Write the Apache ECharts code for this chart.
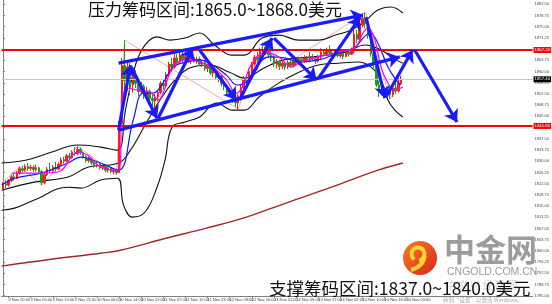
<!DOCTYPE html>
<html><head><meta charset="utf-8">
<script src="https://cdn.jsdelivr.net/npm/echarts@6/dist/echarts.min.js"></script>
<style>html,body{margin:0;padding:0;background:#fff}#c{width:552px;height:304px}</style>
</head><body><div id="c"></div>
<script>
// ---------- DATA ----------
const timeLabels = ['8 Nov 20:00','9 Nov 05:00','9 Nov 13:00','9 Nov 21:00','10 Nov 06:00','10 Nov 14:00','10 Nov 22:00','11 Nov 07:00','11 Nov 15:00','11 Nov 23:00','12 Nov 08:00','12 Nov 16:00','13 Nov 01:00','13 Nov 09:00','13 Nov 17:00','14 Nov 02:00','14 Nov 10:00','14 Nov 18:00','15 Nov 03:00'];
const priceTicks = [1785.00,1788.75,1792.50,1796.25,1800.00,1803.75,1807.50,1811.25,1815.00,1818.75,1822.50,1826.25,1830.00,1833.75,1837.50,1841.25,1845.00,1848.75,1852.50,1856.25,1860.00,1863.75,1867.50,1871.25,1875.00,1878.75,1882.50];
// [open, close, low, high]
const candles = [
[1821.0,1822.5,1820.5,1823.0],[1822.5,1822.0,1821.0,1823.5],[1822.0,1823.5,1821.5,1824.0],[1823.5,1824.8,1823.0,1825.5],
[1824.8,1824.2,1823.5,1825.8],[1824.2,1826.0,1824.0,1826.8],[1826.0,1827.5,1825.5,1828.2],[1827.5,1827.0,1826.2,1828.5],
[1827.0,1828.3,1826.5,1829.0],[1828.3,1827.6,1826.8,1829.4],[1827.6,1828.0,1826.9,1828.8],[1828.0,1827.2,1826.4,1828.6],
[1827.2,1827.8,1826.6,1828.9],[1827.8,1826.5,1825.8,1828.2],[1826.5,1822.8,1822.0,1827.0],[1822.8,1825.5,1822.3,1826.2],
[1825.5,1827.3,1825.0,1828.0],[1827.3,1826.8,1826.0,1829.5],[1826.8,1828.0,1826.3,1828.7],[1828.0,1827.4,1826.5,1829.8],
[1827.4,1829.0,1827.0,1829.6],[1829.0,1830.5,1828.5,1831.2],[1830.5,1830.0,1829.2,1831.5],[1830.0,1831.8,1829.6,1832.4],
[1831.8,1831.2,1830.5,1832.8],[1831.2,1833.0,1830.8,1833.6],[1833.0,1832.5,1831.8,1834.8],[1832.5,1834.0,1832.0,1835.0],
[1834.0,1832.8,1832.2,1834.6],[1832.8,1831.5,1830.8,1833.3],[1831.5,1830.2,1829.6,1832.0],[1830.2,1830.8,1829.5,1831.6],
[1830.8,1829.4,1828.8,1831.2],[1829.4,1828.5,1827.8,1830.0],[1828.5,1829.0,1827.9,1829.8],[1829.0,1827.8,1827.2,1829.4],
[1827.8,1828.2,1827.0,1828.9],[1828.2,1827.0,1826.4,1828.8],[1827.0,1827.6,1826.2,1828.1],[1827.6,1826.5,1825.9,1828.0],
[1826.5,1827.0,1825.6,1827.6],[1827.0,1826.2,1825.5,1827.5],[1826.2,1842.5,1826.0,1843.5],[1842.5,1862.0,1841.5,1864.5],
[1862.0,1857.0,1854.0,1870.5],[1857.0,1861.5,1853.5,1863.5],[1861.5,1855.5,1852.0,1862.8],[1855.5,1858.5,1853.0,1860.0],
[1858.5,1856.0,1854.5,1860.5],[1856.0,1853.2,1851.8,1857.2],[1853.2,1855.0,1852.5,1856.5],[1855.0,1852.0,1850.8,1855.8],
[1852.0,1853.5,1851.0,1854.8],[1853.5,1851.0,1849.8,1854.0],[1851.0,1850.2,1848.5,1852.3],[1850.2,1851.5,1847.5,1852.5],
[1851.5,1853.0,1850.0,1853.8],[1853.0,1856.0,1852.5,1856.8],[1856.0,1855.2,1854.0,1857.5],[1855.2,1859.0,1854.8,1859.8],
[1859.0,1862.5,1858.5,1863.2],[1862.5,1861.5,1860.0,1864.5],[1861.5,1864.5,1861.0,1866.5],[1864.5,1863.2,1862.0,1865.8],
[1863.2,1865.5,1862.8,1867.0],[1865.5,1864.0,1863.0,1866.5],[1864.0,1865.0,1863.2,1867.8],[1865.0,1863.5,1862.8,1865.8],
[1863.5,1864.8,1862.5,1866.0],[1864.8,1863.8,1863.0,1865.5],[1863.8,1864.2,1862.6,1865.0],[1864.2,1862.5,1861.8,1865.0],
[1862.5,1863.0,1861.5,1863.8],[1863.0,1861.0,1860.2,1863.5],[1861.0,1861.8,1859.8,1862.6],[1861.8,1859.5,1858.8,1862.0],
[1859.5,1860.0,1858.2,1860.8],[1860.0,1858.0,1857.2,1860.5],[1858.0,1858.5,1856.5,1859.3],[1858.5,1856.0,1855.0,1859.0],
[1856.0,1855.2,1853.8,1857.0],[1855.2,1853.0,1852.0,1855.8],[1853.0,1853.8,1851.5,1854.5],[1853.8,1851.0,1849.5,1854.2],
[1851.0,1849.5,1848.2,1852.0],[1849.5,1851.8,1847.5,1852.5],[1851.8,1854.5,1851.0,1855.5],[1854.5,1857.5,1854.0,1858.5],
[1857.5,1856.8,1855.5,1859.0],[1856.8,1860.0,1856.0,1861.0],[1860.0,1862.5,1859.5,1863.2],[1862.5,1864.8,1861.8,1865.5],
[1864.8,1864.0,1863.0,1866.5],[1864.0,1867.0,1863.5,1868.0],[1867.0,1866.0,1865.0,1869.6],[1866.0,1868.2,1865.5,1870.0],
[1868.2,1865.5,1864.5,1868.8],[1865.5,1864.8,1863.5,1866.8],[1864.8,1862.5,1861.5,1865.5],[1862.5,1863.5,1861.0,1864.2],
[1863.5,1861.8,1860.5,1864.0],[1861.8,1862.8,1860.8,1863.5],[1862.8,1861.5,1860.5,1863.2],[1861.5,1863.0,1860.8,1863.8],
[1863.0,1862.0,1861.2,1863.8],[1862.0,1863.5,1861.5,1864.2],[1863.5,1862.8,1862.0,1864.5],[1862.8,1864.0,1862.2,1864.8],
[1864.0,1863.2,1862.5,1865.0],[1863.2,1864.5,1862.8,1865.5],[1864.5,1863.8,1863.0,1865.2],[1863.8,1865.0,1863.2,1866.5],
[1865.0,1864.2,1863.5,1865.8],[1864.2,1863.5,1862.5,1864.8],[1863.5,1864.8,1863.0,1865.5],[1864.8,1866.5,1864.2,1867.8],
[1866.5,1865.8,1865.0,1867.2],[1865.8,1867.0,1865.2,1868.0],[1867.0,1866.2,1865.5,1868.8],[1866.2,1865.5,1864.5,1867.0],
[1865.5,1866.8,1865.0,1867.5],[1866.8,1865.2,1864.8,1867.3],[1865.2,1866.0,1864.6,1866.8],[1866.0,1865.0,1864.2,1866.5],
[1865.0,1866.5,1864.8,1867.2],[1866.5,1865.8,1865.0,1867.0],[1865.8,1866.8,1865.5,1868.0],[1866.8,1872.5,1866.0,1874.5],
[1872.5,1870.8,1869.5,1874.0],[1870.8,1875.5,1870.2,1876.5],[1875.5,1877.8,1874.8,1879.5],[1877.8,1876.0,1874.5,1879.8],
[1876.0,1872.0,1871.0,1877.5],[1872.0,1866.0,1865.0,1873.0],[1866.0,1862.5,1861.0,1867.2],[1862.5,1855.5,1854.8,1863.5],
[1855.5,1853.0,1851.5,1857.0],[1853.0,1854.2,1852.0,1855.3],[1854.2,1852.5,1851.2,1855.0],[1852.5,1853.8,1851.8,1854.5],
[1853.8,1852.2,1850.8,1854.8],[1852.2,1854.5,1851.5,1855.6],[1854.5,1853.5,1852.5,1856.8],[1853.5,1856.0,1853.0,1857.8],
[1856.0,1857.4,1855.5,1858.6]
];
// indicator lines: [bar index, price]
const maFast = [[3.1,1826.0],[11.3,1826.0],[19.9,1826.4],[27.1,1833.0],[30.7,1832.0],[35.3,1828.0],[41.8,1827.0],[43.2,1850.5],[45.0,1854.5],[48.6,1853.8],[53.2,1853.1],[56.1,1850.5],[60.4,1859.5],[62.9,1862.8],[66.5,1863.9],[71.1,1863.2],[75.8,1861.5],[80.8,1857.2],[84.4,1852.8],[86.5,1854.8],[90.1,1862.8],[95.1,1866.5],[99.8,1864.9],[104.4,1861.5],[107.0,1862.8],[114.1,1864.9],[121.3,1866.5],[127.4,1868.2],[130.2,1872.9],[132.0,1874.6],[134.5,1870.5],[136.7,1861.5],[139.2,1856.2],[141.7,1853.8],[144.6,1854.8]];
const maSlow = [[-0.5,1822.0],[4.2,1824.3],[13.8,1826.0],[23.5,1829.4],[28.2,1831.4],[35.3,1829.4],[41.8,1827.0],[47.1,1843.8],[50.7,1852.8],[54.3,1852.8],[57.9,1856.2],[61.5,1861.5],[66.5,1863.2],[71.1,1863.9],[75.8,1862.2],[80.8,1858.8],[84.7,1855.5],[88.0,1856.5],[91.5,1861.5],[96.2,1864.9],[102.3,1864.5],[107.0,1863.2],[114.1,1863.9],[121.3,1866.2],[127.4,1868.2],[130.2,1871.2],[132.7,1872.9],[135.6,1869.5],[139.2,1861.5],[142.1,1857.2],[143.8,1855.5]];
const bbUpper = [[-0.5,1829.4],[8.5,1830.4],[17.4,1833.0],[27.1,1835.4],[35.3,1834.7],[41.4,1833.7],[44.3,1847.1],[47.9,1862.2],[51.4,1868.9],[55.7,1871.6],[60.4,1870.5],[65.8,1871.2],[71.1,1872.9],[76.5,1868.9],[82.6,1865.5],[87.3,1865.5],[93.7,1871.2],[99.8,1872.2],[107.0,1870.5],[114.1,1870.5],[120.2,1872.2],[126.0,1873.9],[131.3,1877.2],[135.6,1880.6],[140.3,1881.6],[144.6,1879.6]];
const bbMid = [[-0.5,1820.3],[11.3,1823.0],[23.5,1824.7],[30.7,1828.0],[41.8,1829.4],[46.1,1833.7],[51.4,1842.1],[56.8,1850.5],[62.2,1857.2],[67.5,1861.2],[74.7,1862.2],[81.9,1859.8],[87.3,1857.8],[94.4,1861.2],[101.6,1863.9],[111.6,1864.9],[123.8,1866.5],[131.0,1868.9],[136.7,1867.2],[141.0,1864.5],[144.6,1862.8]];
const bbLower = [[-0.5,1813.6],[4.2,1814.3],[11.3,1817.0],[23.5,1821.3],[28.2,1821.0],[35.3,1823.7],[41.4,1824.3],[43.6,1815.3],[46.8,1811.3],[51.4,1813.0],[55.7,1821.3],[58.6,1830.4],[61.1,1841.4],[65.8,1843.1],[71.1,1844.8],[77.2,1849.5],[83.0,1847.1],[87.3,1847.1],[92.6,1851.5],[99.8,1856.2],[107.0,1859.8],[114.1,1862.2],[121.3,1862.8],[128.4,1863.2],[133.1,1861.5],[136.7,1857.2],[139.2,1850.5],[141.7,1847.1],[144.6,1844.8]];
const maLong = [[-0.5,1794.9],[17.4,1797.2],[35.3,1799.2],[42.5,1800.2],[59.3,1804.3],[73.6,1807.6],[88.0,1811.3],[102.3,1816.0],[118.8,1821.3],[135.6,1827.0],[144.6,1829.4]];
const zigzag = [[-0.5,1822.5],[6,1828.2],[14,1822.0],[27,1835.0],[41,1825.5],[44,1870.5],[85,1847.5],[94.5,1870.0],[100,1861.0],[131,1879.8],[140,1850.8],[144,1857.8]];
const arrowSegments = [
 [[41.8,1862.8],[130.2,1878.9]],
 [[41.8,1840.4],[143.5,1864.9]],
 [[41.8,1840.4],[46.1,1862.2]],
 [[46.4,1861.5],[55.7,1844.4]],
 [[56.1,1844.4],[68.6,1867.9]],
 [[71.1,1867.2],[84.4,1850.5]],
 [[85.5,1850.5],[97.3,1871.2]],
 [[98.0,1871.2],[113.4,1857.2]],
 [[114.1,1857.8],[129.2,1878.2]],
 [[131.3,1878.2],[138.1,1851.1]],
 [[138.5,1851.5],[148.1,1867.2]],
 [[148.9,1867.2],[164.2,1843.1]]
];
const resistanceLevel = 1867.2;
const supportLevel = 1841.8;
const lastPrice = 1857.4;
const titleTop = '压力筹码区间:1865.0~1868.0美元';
const titleBottom = '支撑筹码区间:1837.0~1840.0美元';

// ---------- CHART ----------
const N = 192;
const slots = Array.from({length: N}, (_, i) => String(i));
const labelFirst = 2, labelEvery = 8;
function slotLabel(i){
  return (i >= labelFirst && (i - labelFirst) % labelEvery === 0) ? (timeLabels[(i - labelFirst) / labelEvery] || '') : '';
}
function lineS(data, color, width, z, smooth, opacity){
  return {type:'line', data, xAxisIndex:1, yAxisIndex:0, showSymbol:false, symbol:'none',
    smooth: smooth, lineStyle:{color, width, opacity: opacity==null?1:opacity}, z, silent:true};
}
const chart = echarts.init(document.getElementById('c'), null, {renderer:'canvas'});
const smallFont = {fontSize:4, color:'#444', fontFamily:'Liberation Sans'};
chart.setOption({
  animation:false,
  backgroundColor:'#ffffff',
  grid:{left:0, right:16, top:0, bottom:8},
  xAxis:[
    {type:'category', data:slots, boundaryGap:true, position:'bottom',
     axisLine:{lineStyle:{color:'#808080', width:1}},
     axisTick:{show:true, alignWithLabel:true, interval:(i)=>slotLabel(i)!=='', length:2, lineStyle:{color:'#808080'}},
     axisLabel:Object.assign({interval:0, formatter:(v,i)=>slotLabel(i), align:'left', margin:2}, smallFont),
     splitLine:{show:false}},
    {type:'value', min:-0.5, max:N-0.5, show:false}
  ],
  yAxis:{type:'value', position:'right', min:1784.9, max:1883.94, scale:true,
    axisLine:{show:true, lineStyle:{color:'#808080', width:1}},
    axisTick:{show:true, customValues:priceTicks, length:2, lineStyle:{color:'#808080'}},
    axisLabel:Object.assign({customValues:priceTicks, formatter:(v)=>Number(v).toFixed(2), margin:2}, smallFont),
    splitLine:{show:false}},
  series:[
    Object.assign(lineS(maLong, '#a4262c', 1.4, 2, 0.4), {
      markLine:{silent:true, symbol:'none', animation:false,
        label:{show:true, position:'end', distance:1, fontSize:4.3, color:'#fff', padding:[1,1], fontFamily:'Liberation Sans', formatter:(p)=>Number(p.value).toFixed(2)},
        data:[
          {yAxis:lastPrice, lineStyle:{color:'#c8c8c8', width:1, type:'solid'}, label:{backgroundColor:'#000'}},
          {yAxis:resistanceLevel, lineStyle:{color:'#ff0000', width:2, type:'solid'}, label:{backgroundColor:'#ff0000'}},
          {yAxis:supportLevel, lineStyle:{color:'#ff0000', width:2, type:'solid'}, label:{backgroundColor:'#ff0000'}}
        ]}
    }),
    lineS(zigzag, '#f4a0a0', 1, 3, false, 0.9),
    lineS(bbUpper, '#111111', 1.1, 3, 0.4),
    lineS(bbMid, '#111111', 1.1, 3, 0.4),
    lineS(bbLower, '#111111', 1.1, 3, 0.4),
    {type:'candlestick', data:candles, xAxisIndex:0, yAxisIndex:0, barWidth:2, z:4, silent:true,
     itemStyle:{color:'#ff1a1a', color0:'#1e9a1e', borderColor:'#ff1a1a', borderColor0:'#1e9a1e', borderWidth:1}},
    lineS(maSlow, '#1414ff', 1.2, 5, 0.4),
    lineS(maFast, '#ff00ff', 1.2, 5, 0.4),
    {type:'lines', coordinateSystem:'cartesian2d', xAxisIndex:1, yAxisIndex:0, z:8, silent:true,
     symbol:['none','arrow'], symbolSize:12,
     lineStyle:{color:'#1a1aff', width:3.2, opacity:1, curveness:0},
     data: arrowSegments.map(s => ({coords:s}))}
  ],
  graphic:[
    {type:'circle', shape:{cx:420, cy:258, r:17}, z:20,
     style:{fill:new echarts.graphic.LinearGradient(0,0,1,1,[{offset:0,color:'#f5821f'},{offset:1,color:'#d8231c'}])}},
    {type:'arc', shape:{cx:418, cy:254, r:6.5, startAngle:Math.PI*0.7, endAngle:Math.PI*2.45, clockwise:true}, z:21,
     style:{stroke:'#ffd43b', lineWidth:4, fill:null}},
    {type:'bezierCurve', shape:{x1:424.5, y1:256, cpx1:424, cpy1:266, x2:411, y2:270}, z:21,
     style:{stroke:'#ffd43b', lineWidth:4, fill:null}},
    {type:'text', x:444, y:234, z:20, style:{text:'中金网', font:'bold 31px "Noto Sans CJK SC"', fill:'#9c9c9c'}},
    {type:'text', x:447, y:267, z:20, style:{text:'CNGOLD.COM.CN', font:'10.5px "Liberation Sans"', fill:'#9c9c9c'}},
    {type:'text', x:446, y:280, z:20, style:{text:'中 文 财 经 新 闻', font:'10px "Noto Sans CJK SC"', fill:'#d4d4d4'}},
    {type:'text', x:443, y:297, z:20, style:{text:'转到“设置”以激活 Windows。', font:'5.5px "Noto Sans CJK SC"', fill:'#a8a8a8'}},
    {type:'text', x:88, y:1, z:30, style:{text:titleTop, font:'17px "Noto Sans CJK SC"', fill:'#111'}},
    {type:'text', x:269, y:280, z:30, style:{text:titleBottom, font:'17.5px "Noto Sans CJK SC"', fill:'#111'}}
  ]
});
</script></body></html>
